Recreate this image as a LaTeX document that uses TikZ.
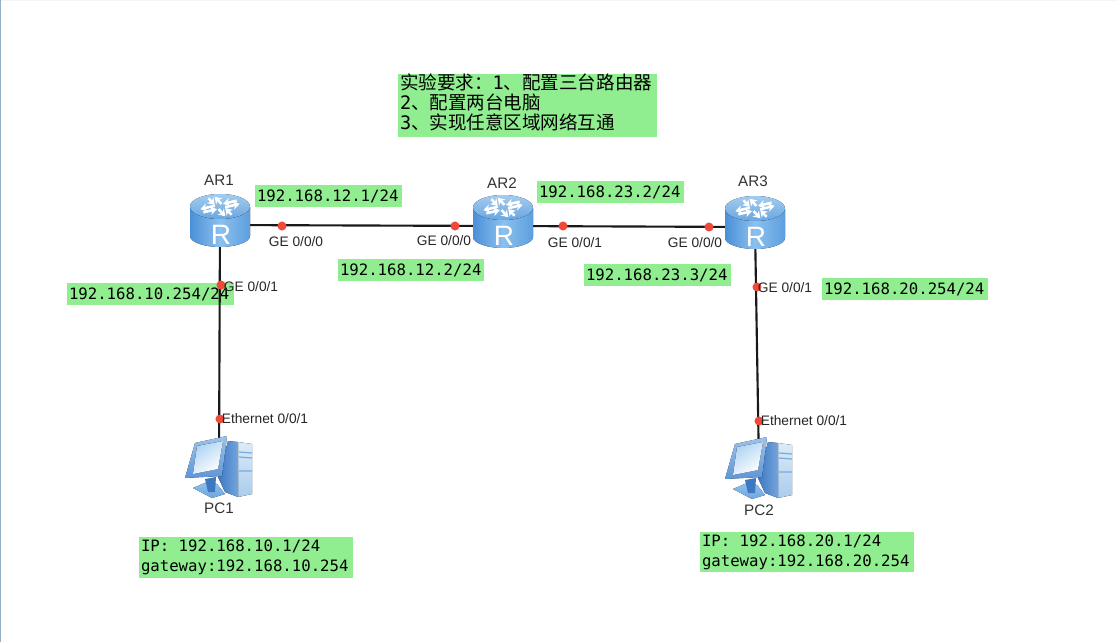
\documentclass[tikz,border=0pt]{standalone}
\usepackage{fontspec}
\setmainfont{Liberation Sans}
\newfontfamily\monof{DejaVu Sans Mono}
\newfontfamily\cjkf{Noto Sans CJK SC}
\usetikzlibrary{arrows.meta}
\definecolor{lblgreen}{HTML}{90EE90}
\definecolor{portred}{HTML}{F0493A}
\definecolor{edgeblue}{HTML}{96AFC3}
\definecolor{bodyL}{HTML}{4A90D8}
\definecolor{bodyM}{HTML}{8CC0EE}
\definecolor{bodyR}{HTML}{5C9FDE}
\definecolor{topA}{HTML}{A4CCEF}
\definecolor{topB}{HTML}{6AA6E0}
\definecolor{frameA}{HTML}{9CC4EC}
\definecolor{frameB}{HTML}{5E96D8}
\definecolor{sideA}{HTML}{3F78C2}
\definecolor{sideB}{HTML}{74A4DC}
\definecolor{towerA}{HTML}{DCEBF8}
\definecolor{towerB}{HTML}{A9CCEC}
\tikzset{
  x=0.75pt,y=-0.75pt,
  anchorbox/.style={minimum width=45pt,minimum height=39pt,inner sep=0pt},
  link/.style={line width=1.6pt,draw=black!90},
  portdot/.style={circle,fill=portred,minimum size=6.8pt,inner sep=0pt},
  porttext/.style={font=\fontsize{10.3pt}{12pt}\selectfont,text=black!85,inner sep=0pt},
  devname/.style={font=\fontsize{11.4pt}{13pt}\selectfont,text=black!80,inner sep=0pt},
  greenbox/.style={fill=lblgreen,inner sep=0pt,text=black,font=\monof\fontsize{11.75pt}{15pt}\selectfont},
  arrowline/.style={draw=white,line width=1.9pt,-{Stealth[length=5pt,width=6.5pt]}},
  pics/routericon/.style={code={
    \fill[left color=bodyL,right color=bodyR,middle color=bodyM]
      (-30,-18) -- (-30,11) .. controls (-30,17) and (-16,22) .. (0,22)
      .. controls (16,22) and (30,17) .. (30,11) -- (30,-18) -- cycle;
    \fill[top color=topA,bottom color=topB] (0,-18.5) ellipse [x radius=30,y radius=12.5];
    \begin{scope}[shift={(0,-18.5)},yscale=0.5]
      \foreach \a in {25,115,205,295}{
        \draw[arrowline,rotate=\a] (4,3.5) -- (20,3.5);
        \draw[arrowline,rotate=\a] (20,-3.5) -- (5,-3.5);
      }
    \end{scope}
    \node[text=white,inner sep=0pt,font=\fontsize{21pt}{22pt}\selectfont] at (1,10) {R};
  }},
  pics/pcicon/.style={code={
    \fill[top color=towerA,bottom color=towerB] (19,-25) -- (33,-23) -- (33,27) -- (19,30) -- cycle;
    \draw[color=bodyL!75!white,line width=0.9pt] (20,-15) -- (33,-14) (20,-10) -- (33,-9) (20,4) -- (33,4);
    \fill[left color=sideA,right color=sideB] (9,-26) -- (19,-25) -- (19,30) -- (6,25) -- (-1,10) -- cycle;
    \fill[top color=bodyM,bottom color=bodyL!80!white] (-12,15) -- (-2,17) -- (6,27) -- (-7,31) -- (-26,21) -- cycle;
    \fill[color=sideA] (-14,12) -- (-3,10) -- (-4,25) -- (-11,25) -- cycle;
    \fill[top color=frameA,bottom color=frameB] (-24,-24) -- (8,-31) -- (3,9) -- (-34,11) -- cycle;
    \fill[left color=bodyM!70!white,right color=white,shading angle=35] (-22,-21) -- (4,-26) -- (-1,2) -- (-26,7) -- cycle;
  }}
}
\newcommand{\greenlabel}[6]{% name, x1, y1, x2, y2, text
  \node[greenbox,minimum width={(#4-#2)*0.75pt},minimum height={(#5-#3)*0.75pt},text width={(#4-#2-4)*0.75pt},align=left] (#1) at ({(#2+#4)/2},{(#3+#5)/2}) {#6};}
\begin{document}
\begin{tikzpicture}
\useasboundingbox (0,0) rectangle (1118,642);
\fill[white] (0,0) rectangle (1118,642);
\fill[black!4] (0,0) rectangle (1118,1.5);
\fill[edgeblue] (0,0) rectangle (1.5,642);

% green labels
\greenlabel{l1}{255}{185}{402}{207}{192.168.12.1/24}
\greenlabel{l2}{338}{259}{484}{281}{192.168.12.2/24}
\greenlabel{l3}{537}{181}{684}{203}{192.168.23.2/24}
\greenlabel{l4}{584}{264}{731}{286}{192.168.23.3/24}
\greenlabel{l5}{67}{283}{234}{305}{192.168.10.254/24}
\greenlabel{l6}{822}{278}{988}{300}{192.168.20.254/24}
\greenlabel{l7}{139}{537}{353}{578}{IP:\hspace{0.602em}192.168.10.1/24\\gateway:192.168.10.254}
\greenlabel{l8}{700}{532}{914}{572}{IP:\hspace{0.602em}192.168.20.1/24\\gateway:192.168.20.254}
\greenlabel{l9}{398}{75}{657}{136}{\fontsize{13.9pt}{15pt}\selectfont\cjkf 实验要求：\monof 1\cjkf 、配置三台路由器\\\monof 2\cjkf 、配置两台电脑\\\monof 3\cjkf 、实现任意区域网络互通\par\vspace{4pt}}

% anchors of the devices
\node[anchorbox] (AR1) at (220,225) {};
\node[anchorbox] (AR2) at (503,226) {};
\node[anchorbox] (AR3) at (755,227) {};
\node[anchorbox] (PC1) at (219,467) {};
\node[anchorbox] (PC2) at (759,468) {};

% links
\draw[link] (AR1.center) -- (AR2.center);
\draw[link] (AR2.center) -- (AR3.center);
\draw[link] (AR1.center) -- (PC1.center);
\draw[link] (AR3.center) -- (PC2.center);

% icons
\pic at (AR1) {routericon};
\pic at (AR2) {routericon};
\pic at (AR3) {routericon};
\pic at (PC1) {pcicon};
\pic at (PC2) {pcicon};

% port dots
\node[portdot] (p1) at (282,226) {};
\node[portdot] (p2) at (455,226) {};
\node[portdot] (p3) at (563,226) {};
\node[portdot] (p4) at (709,227) {};
\node[portdot] (p5) at (221,285) {};
\node[portdot] (p6) at (757,287) {};
\node[portdot] (p7) at (220,419) {};
\node[portdot] (p8) at (759,421) {};

% device names
\node[devname] (nAR1) at (219,180) {AR1};
\node[devname] (nAR2) at (502,183) {AR2};
\node[devname] (nAR3) at (753,181) {AR3};
\node[devname] (nPC1) at (219,508) {PC1};
\node[devname] (nPC2) at (759,510) {PC2};

% port names
\node[porttext] (t1) at (296,242) {GE 0/0/0};
\node[porttext] (t2) at (444,241) {GE 0/0/0};
\node[porttext] (t3) at (575,243) {GE 0/0/1};
\node[porttext] (t4) at (695,243) {GE 0/0/0};
\node[porttext] (t5) at (251,287) {GE 0/0/1};
\node[porttext] (t6) at (785,288) {GE 0/0/1};
\node[porttext] (t7) at (265,419) {Ethernet 0/0/1};
\node[porttext] (t8) at (804,421) {Ethernet 0/0/1};
\end{tikzpicture}
\end{document}
